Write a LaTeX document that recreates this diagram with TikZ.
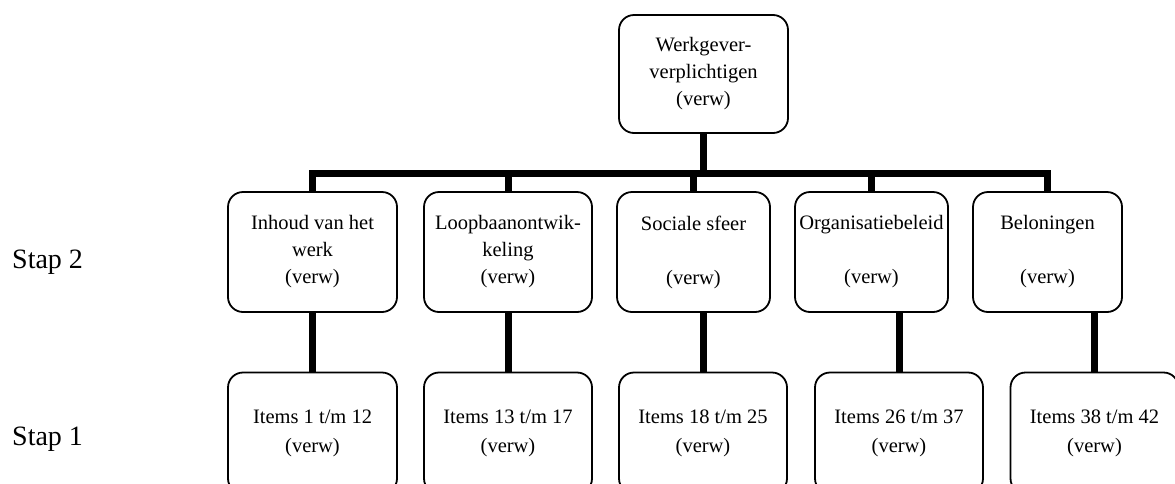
\documentclass[tikz,border=0pt]{standalone}
\usepackage{fontspec}
\setmainfont{Liberation Serif}
\begin{document}
\begin{tikzpicture}[x=1pt,y=-1pt,
  box/.style={draw,line width=1.8pt,rounded corners=15pt,align=center,inner sep=0pt,
    font=\fontsize{20.5}{27}\selectfont},
  itembox/.style={box,minimum width=168pt,minimum height=121pt,font=\fontsize{20.5}{29}\selectfont},
  conn/.style={line width=7pt,line join=miter},
  lbl/.style={anchor=base west,inner sep=0pt,font=\fontsize{28}{32}\selectfont}]
\clip (0,0) rectangle (1175,483);
% top
\node[box,minimum width=169pt,minimum height=118pt] (top) at (703.5,74) {Werkgever-\\verplichtigen\\(verw)};
% stap 2
\node[box,minimum width=169pt,minimum height=120pt] (s2a) at (312.5,252) {Inhoud van het\\werk\\(verw)};
\node[box,minimum width=168pt,minimum height=120pt] (s2b) at (508,252) {Loopbaanontwik-\\keling\\(verw)};
\node[box,minimum width=153pt,minimum height=120pt] (s2c) at (693.5,252) {Sociale sfeer\\\strut\\(verw)};
\node[box,minimum width=153pt,minimum height=120pt] (s2d) at (871.5,252) {Organisatiebeleid\\\strut\\(verw)};
\node[box,minimum width=149pt,minimum height=120pt] (s2e) at (1047.5,252) {Beloningen\\\strut\\(verw)};
% stap 1
\node[itembox,minimum width=169pt] (s1a) at (312.5,433) {Items 1 t/m 12\\(verw)};
\node[itembox] (s1b) at (508,433) {Items 13 t/m 17\\(verw)};
\node[itembox] (s1c) at (703,433) {Items 18 t/m 25\\(verw)};
\node[itembox] (s1d) at (899,433) {Items 26 t/m 37\\(verw)};
\node[itembox] (s1e) at (1094.5,433) {Items 38 t/m 42\\(verw)};
% labels
\node[lbl] (st2) at (12,268) {Stap 2};
\node[lbl] (st1) at (12,445) {Stap 1};
% connectors
\coordinate (bar) at (0,173);
\draw[conn] (top.south) -- (top.south |- bar);
\draw[conn] (s2a.north) -- (s2a.north |- bar) -- (s2e.north |- bar) -- (s2e.north);
\draw[conn] (s2b.north) -- (s2b.north |- bar);
\draw[conn] (s2c.north) -- (s2c.north |- bar);
\draw[conn] (s2d.north) -- (s2d.north |- bar);
\draw[conn] (s1a.north) -- (s1a.north |- s2a.south);
\draw[conn] (s1b.north) -- (s1b.north |- s2b.south);
\draw[conn] (s1c.north) -- (s1c.north |- s2c.south);
\draw[conn] (s1d.north) -- (s1d.north |- s2d.south);
\draw[conn] (s1e.north) -- (s1e.north |- s2e.south);
\end{tikzpicture}
\end{document}
